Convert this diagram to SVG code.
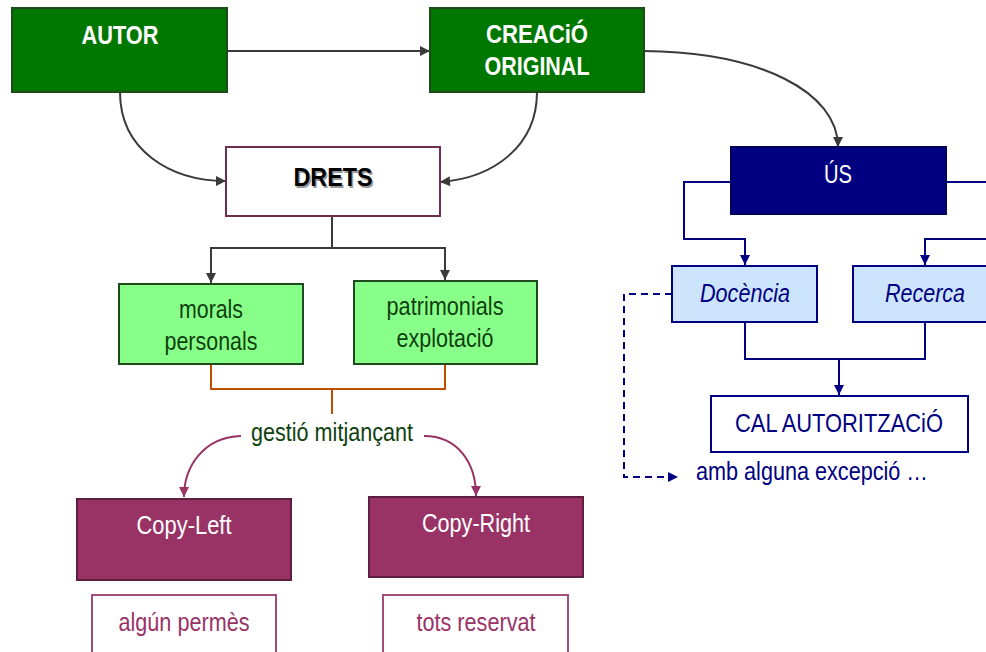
<svg xmlns="http://www.w3.org/2000/svg" width="986" height="652" viewBox="0 0 986 652">
  <defs>
    <style>
      text { font-family: "Liberation Sans", Arial, sans-serif; font-size: 25px; text-anchor: middle; }
      .b { font-weight: bold; }
      .w { fill: #ffffff; }
      .navy { fill: #000080; }
      .it { font-style: italic; }
      .dg { fill: #0f3f0f; }
      .pur { fill: #993366; }
      .green { fill: #007800; stroke: #1e4a1e; stroke-width: 2; }
      .lgreen { fill: #88ff88; stroke: #1e4a1e; stroke-width: 2; }
      .blue { fill: #000080; stroke: #00005a; stroke-width: 2; }
      .lblue { fill: #cce4fc; stroke: #000080; stroke-width: 2; }
      .wnavy { fill: #ffffff; stroke: #000080; stroke-width: 2; }
      .plum { fill: #993366; stroke: #5e1f40; stroke-width: 2; }
      .wplum { fill: #ffffff; stroke: #a34d7a; stroke-width: 2; }
      .wdrets { fill: #ffffff; stroke: #6e2e50; stroke-width: 2; }
      .c-gray { fill: none; stroke: #3a3a3a; stroke-width: 2; }
      .c-navy { fill: none; stroke: #000080; stroke-width: 2; }
      .c-orange { fill: none; stroke: #c05000; stroke-width: 2; }
      .c-plum { fill: none; stroke: #993366; stroke-width: 2; }
      .dash { stroke-dasharray: 7 5; }
    </style>
    <marker id="ah-gray" viewBox="0 0 10 10" refX="10" refY="5" markerWidth="11" markerHeight="10" markerUnits="userSpaceOnUse" orient="auto">
      <path d="M0,0 L10,5 L0,10 Z" fill="#3a3a3a"/>
    </marker>
    <marker id="ah-navy" viewBox="0 0 10 10" refX="10" refY="5" markerWidth="11" markerHeight="10" markerUnits="userSpaceOnUse" orient="auto">
      <path d="M0,0 L10,5 L0,10 Z" fill="#000080"/>
    </marker>
    <marker id="ah-plum" viewBox="0 0 10 10" refX="10" refY="5" markerWidth="11" markerHeight="10" markerUnits="userSpaceOnUse" orient="auto">
      <path d="M0,0 L10,5 L0,10 Z" fill="#993366"/>
    </marker>
  </defs>

  <!-- connectors -->
  <g id="connectors">
    <path class="c-gray" d="M227,51 H430" marker-end="url(#ah-gray)"/>
    <path class="c-gray" d="M120,92 C120,150 170,181 226,181" marker-end="url(#ah-gray)"/>
    <path class="c-gray" d="M537,92 C537,145 495,178 440,182" marker-end="url(#ah-gray)"/>
    <path class="c-gray" d="M644,51 C760,52 838,92 838,147" marker-end="url(#ah-gray)"/>
    <path class="c-gray" d="M332,216 V248 H211 V283" marker-end="url(#ah-gray)"/>
    <path class="c-gray" d="M332,248 H445 V280" marker-end="url(#ah-gray)"/>

    <path class="c-orange" d="M211,364 V389 H445 V364 M332,389 V414"/>

    <path class="c-plum" d="M241,436 C205,437 184,465 184,497" marker-end="url(#ah-plum)"/>
    <path class="c-plum" d="M424,436 C458,436 476,463 476,496" marker-end="url(#ah-plum)"/>

    <path class="c-navy" d="M731,182 H684 V239 H745 V265" marker-end="url(#ah-navy)"/>
    <path class="c-navy" d="M946,182 H996 V239 H925 V265" marker-end="url(#ah-navy)"/>
    <path class="c-navy" d="M745,322 V359 H925 V322"/>
    <path class="c-navy" d="M839,359 V395" marker-end="url(#ah-navy)"/>
    <path class="c-navy dash" d="M672,294 H624 V477 H678" marker-end="url(#ah-navy)"/>
  </g>

  <!-- top row -->
  <g id="autor">
    <rect class="green" x="12" y="8" width="215" height="84"/>
    <text class="b w" x="120" y="44" textLength="77" lengthAdjust="spacingAndGlyphs">AUTOR</text>
  </g>
  <g id="creacio">
    <rect class="green" x="430" y="8" width="214" height="84"/>
    <text class="b w" x="537" y="43" textLength="102" lengthAdjust="spacingAndGlyphs">CREACiÓ</text>
    <text class="b w" x="537" y="75" textLength="105" lengthAdjust="spacingAndGlyphs">ORIGINAL</text>
  </g>

  <!-- rights branch -->
  <g id="drets">
    <rect class="wdrets" x="226" y="147" width="214" height="69"/>
    <text class="b" x="334.5" y="187.5" fill="#9a9a9a" font-size="27" textLength="79" lengthAdjust="spacingAndGlyphs">DRETS</text>
    <text class="b" x="333" y="186" fill="#000000" font-size="27" textLength="79" lengthAdjust="spacingAndGlyphs">DRETS</text>
  </g>
  <g id="morals">
    <rect class="lgreen" x="119" y="284" width="184" height="80"/>
    <text class="dg" x="211" y="318" textLength="64" lengthAdjust="spacingAndGlyphs">morals</text>
    <text class="dg" x="211" y="350" textLength="93" lengthAdjust="spacingAndGlyphs">personals</text>
  </g>
  <g id="patrimonials">
    <rect class="lgreen" x="354" y="281" width="183" height="83"/>
    <text class="dg" x="445" y="315" textLength="117" lengthAdjust="spacingAndGlyphs">patrimonials</text>
    <text class="dg" x="445" y="347" textLength="97" lengthAdjust="spacingAndGlyphs">explotació</text>
  </g>
  <g id="gestio">
    <text class="dg" x="332" y="441" textLength="162" lengthAdjust="spacingAndGlyphs">gestió mitjançant</text>
  </g>
  <g id="copyleft">
    <rect class="plum" x="77" y="499" width="214" height="81"/>
    <text class="w" x="184" y="534" textLength="95" lengthAdjust="spacingAndGlyphs">Copy-Left</text>
  </g>
  <g id="copyright">
    <rect class="plum" x="369" y="497" width="214" height="80"/>
    <text class="w" x="476" y="532" textLength="108" lengthAdjust="spacingAndGlyphs">Copy-Right</text>
  </g>
  <g id="algun">
    <rect class="wplum" x="92" y="595" width="184" height="70"/>
    <text class="pur" x="184" y="631" textLength="131" lengthAdjust="spacingAndGlyphs">algún permès</text>
  </g>
  <g id="tots">
    <rect class="wplum" x="383" y="595" width="185" height="70"/>
    <text class="pur" x="476" y="631" textLength="119" lengthAdjust="spacingAndGlyphs">tots reservat</text>
  </g>

  <!-- usage branch -->
  <g id="us">
    <rect class="blue" x="731" y="147" width="215" height="67"/>
    <text class="w" x="838" y="183" textLength="28" lengthAdjust="spacingAndGlyphs">ÚS</text>
  </g>
  <g id="docencia">
    <rect class="lblue" x="672" y="266" width="145" height="56"/>
    <text class="navy it" x="745" y="302" textLength="90" lengthAdjust="spacingAndGlyphs">Docència</text>
  </g>
  <g id="recerca">
    <rect class="lblue" x="853" y="266" width="145" height="56"/>
    <text class="navy it" x="925" y="302" textLength="80" lengthAdjust="spacingAndGlyphs">Recerca</text>
  </g>
  <g id="autoritzacio">
    <rect class="wnavy" x="711" y="396" width="257" height="56"/>
    <text class="navy" x="839" y="432" textLength="208" lengthAdjust="spacingAndGlyphs">CAL AUTORITZACiÓ</text>
  </g>
  <g id="excepcio">
    <text class="navy" x="696" y="480" style="text-anchor:start" textLength="232" lengthAdjust="spacingAndGlyphs">amb alguna excepció …</text>
  </g>
</svg>
